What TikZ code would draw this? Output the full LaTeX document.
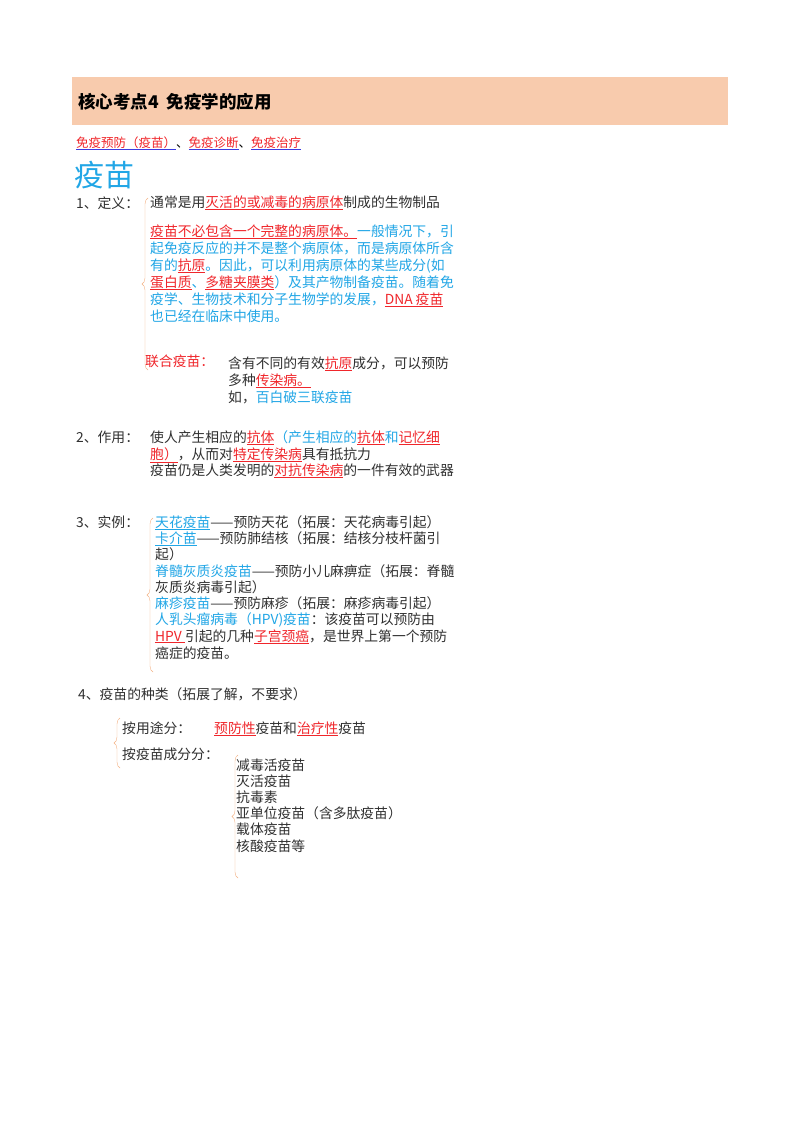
\documentclass[tikz,border=0pt]{standalone}
\usepackage{fontspec}
\setmainfont{Noto Sans CJK SC}
\usetikzlibrary{positioning, decorations.pathreplacing}
\definecolor{hdrfill}{HTML}{F8CBAD}
\definecolor{redtxt}{HTML}{F0262B}
\definecolor{bluetxt}{HTML}{21A6E6}
\definecolor{greytxt}{HTML}{303030}
\definecolor{bracecol}{HTML}{F4B183}
\definecolor{linkcol}{HTML}{3B3BE0}
\newcommand\redul[1]{\textcolor{redtxt}{\underline{#1}}}
\newcommand\blueul[1]{\textcolor{bluetxt}{\underline{#1}}}
\newcommand\blu[1]{\textcolor{bluetxt}{#1}}
\newcommand\lnk[1]{\textcolor{linkcol}{\underline{\textcolor{redtxt}{#1}}}}

\begin{document}
\begin{tikzpicture}[
    x = 1pt, y = -1pt,
    txt/.style = {
      anchor = base west, inner sep = 0pt, text = greytxt,
      font = \fontsize{13.8}{15}\selectfont
    },
    small/.style = {
      anchor = base west, inner sep = 0pt,
      font = \fontsize{12.5}{14}\selectfont
    },
    % thin curly bracket on the left of a list
    cbrace/.style = {
      draw = bracecol, thin, decorate,
      decoration = {brace, amplitude = 6pt}
    },
    ]
\useasboundingbox[fill = white] (0,0) rectangle (800,1132);

% header
\fill [hdrfill] (72,77) rectangle (728,125);
\node [txt, text = black, font = \fontsize{17.5}{19}\selectfont\bfseries]  (title)  at (78,108)  {核心考点4\ \ 免疫学的应用};
\node [small]  (links)  at (76,147)  {\lnk{免疫预防（疫苗）}、\lnk{免疫诊断}、\lnk{免疫治疗}};
\node [txt, text = bluetxt, font = \fontsize{30}{32}\selectfont]  (vacc)  at (74,186)  {疫苗};

% 1
\node [txt]  (def)  at (76,208)  {1、定义：};
\node [txt]  (def1)  at (150,207)  {通常是用\redul{灭活的或减毒的病原体}制成的生物制品};
\node [txt]  (def2)  at (150,236)  {\redul{疫苗不必包含一个完整的病原体。}\blu{一般情况下，引}};
\node [txt, text = bluetxt]  (def3)  at (150,253)  {起免疫反应的并不是整个病原体，而是病原体所含};
\node [txt, text = bluetxt]  (def4)  at (150,270)  {有的\redul{抗原}。因此，可以利用病原体的某些成分(如};
\node [txt, text = bluetxt]  (def5)  at (150,287)  {\redul{蛋白质}、\redul{多糖夹膜类}）及其产物制备疫苗。随着免};
\node [txt, text = bluetxt]  (def6)  at (150,304)  {疫学、生物技术和分子生物学的发展，\redul{DNA 疫苗}};
\node [txt, text = bluetxt]  (def7)  at (150,321)  {也已经在临床中使用。};
\node [txt, text = redtxt]  (comb)  at (145,366)  {联合疫苗：};
\node [txt]  (comb1)  at (228,368)  {含有不同的有效\redul{抗原}成分，可以预防};
\node [txt]  (comb2)  at (228,385)  {多种\redul{传染病。}};
\node [txt]  (comb3)  at (228,402)  {如，\blu{百白破三联疫苗}};
\coordinate (b1top) at (148,198);
\coordinate (b1bot) at (148,370);
\draw [cbrace]  (b1bot)  --  (b1top);

% 2
\node [txt]  (use)  at (76,442)  {2、作用：};
\node [txt]  (use1)  at (150,442)  {使人产生相应的\redul{抗体}\blu{（产生相应的}\redul{抗体}\blu{和}\redul{记忆细}};
\node [txt]  (use2)  at (150,459)  {\redul{胞）}，从而对\redul{特定传染病}具有抵抗力};
\node [txt]  (use3)  at (150,475)  {疫苗仍是人类发明的\redul{对抗传染病}的一件有效的武器};

% 3
\node [txt]  (ex)  at (76,527)  {3、实例：};
\node [txt]  (ex1)  at (155,527)  {\blueul{天花疫苗}——预防天花（拓展：天花病毒引起）};
\node [txt]  (ex2)  at (155,543)  {\blueul{卡介苗}——预防肺结核（拓展：结核分枝杆菌引};
\node [txt]  (ex3)  at (155,559)  {起）};
\node [txt]  (ex4)  at (155,576)  {\blu{脊髓灰质炎疫苗}——预防小儿麻痹症（拓展：脊髓};
\node [txt]  (ex5)  at (155,592)  {灰质炎病毒引起）};
\node [txt]  (ex6)  at (155,608)  {\blu{麻疹疫苗}——预防麻疹（拓展：麻疹病毒引起）};
\node [txt]  (ex7)  at (155,624)  {\blu{人乳头瘤病毒（HPV)疫苗}：该疫苗可以预防由};
\node [txt]  (ex8)  at (155,641)  {\redul{HPV }引起的几种\redul{子宫颈癌}，是世界上第一个预防};
\node [txt]  (ex9)  at (155,658)  {癌症的疫苗。};
\coordinate (b2top) at (153,518);
\coordinate (b2bot) at (153,672);
\draw [cbrace]  (b2bot)  --  (b2top);

% 4
\node [txt]  (kind)  at (78,699)  {4、疫苗的种类（拓展了解，不要求）};
\node [txt]  (bypur)  at (122,733)  {按用途分：};
\node [txt]  (bypur1)  at (214,733)  {\redul{预防性}疫苗和\redul{治疗性}疫苗};
\node [txt]  (bycomp)  at (122,759)  {按疫苗成分分：};
\coordinate (b3top) at (120,718);
\coordinate (b3bot) at (120,768);
\draw [cbrace]  (b3bot)  --  (b3top);
\node [txt]  (c1)  at (236,770)  {减毒活疫苗};
\node [txt]  (c2)  at (236,786)  {灭活疫苗};
\node [txt]  (c3)  at (236,802)  {抗毒素};
\node [txt]  (c4)  at (236,818)  {亚单位疫苗（含多肽疫苗）};
\node [txt]  (c5)  at (236,834)  {载体疫苗};
\node [txt]  (c6)  at (236,851)  {核酸疫苗等};
\coordinate (b4top) at (238,755);
\coordinate (b4bot) at (238,878);
\draw [cbrace]  (b4bot)  --  (b4top);
\end{tikzpicture}
\end{document}
